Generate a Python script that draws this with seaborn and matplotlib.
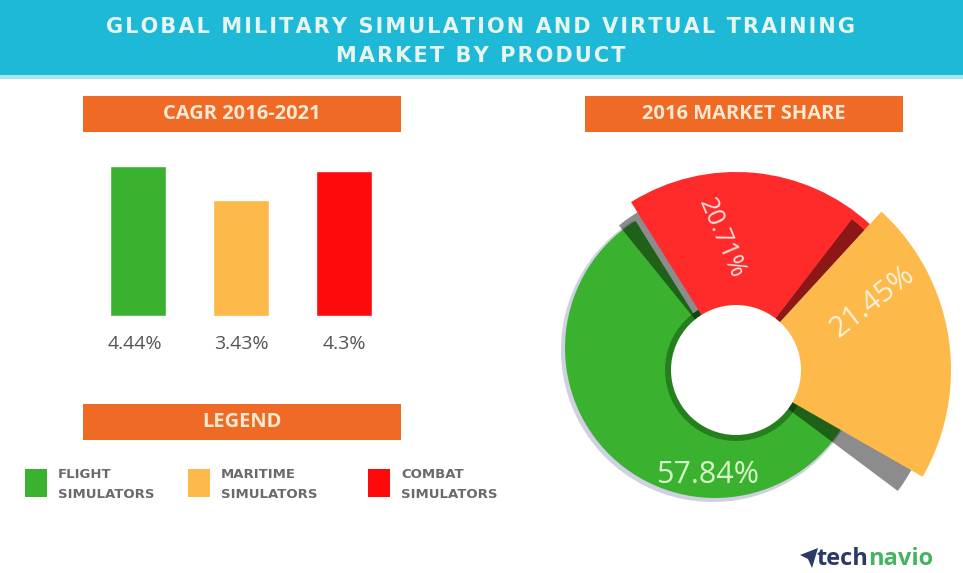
import numpy as np
import matplotlib
matplotlib.use("Agg")
import matplotlib.pyplot as plt
from matplotlib.patches import Rectangle, Circle, Polygon
import seaborn as sns

# ---- data ----
products = ["FLIGHT\nSIMULATORS", "MARITIME\nSIMULATORS", "COMBAT\nSIMULATORS"]
cagr_2016_2021 = [4.44, 3.43, 4.3]
share_2016 = [57.84, 21.45, 20.71]
bar_colors = ["#3AB22F", "#FDB94A", "#FF0A0A"]
donut_colors = ["#3AB22F", "#FDB94A", "#FF2B2B"]

title = "GLOBAL MILITARY SIMULATION AND VIRTUAL TRAINING\nMARKET BY PRODUCT"

sns.set_theme(style="white")
plt.rcParams["font.family"] = ["Open Sans", "DejaVu Sans"]

W, H = 963, 573
fig = plt.figure(figsize=(W / 100, H / 100), dpi=100)
fig.patch.set_facecolor("white")

# background canvas in pixel coordinates (banner, header boxes, legend, logo)
bg = fig.add_axes([0, 0, 1, 1], zorder=0)
bg.set_xlim(0, W)
bg.set_ylim(H, 0)
bg.axis("off")

bg.add_patch(Rectangle((0, 0), W, 75, color="#1DB9D7", lw=0))
bg.add_patch(Rectangle((0, 75), W, 4, color="#A9E5EF", lw=0))
for i, line in enumerate(title.split("\n")):
    spaced = "\u200a".join(line)  # letter-spaced like the original banner
    bg.text(481, 27 + i * 29, spaced, ha="center", va="center", color="#E6F5F0",
            fontsize=15, fontweight="bold", family="DejaVu Sans")

orange = "#EE6A25"
header_color = "#FCE8D3"
for x0, y0, label in [(83, 96, "CAGR 2016-2021"), (585, 96, "2016 MARKET SHARE"),
                      (83, 404, "LEGEND")]:
    bg.add_patch(Rectangle((x0, y0), 318, 36, color=orange, lw=0))
    bg.text(x0 + 159, y0 + 18, label, ha="center", va="center", color=header_color,
            fontsize=14.5, fontweight="bold")

# legend entries
for x0, name, col in zip([25, 188, 368], products, bar_colors):
    bg.add_patch(Rectangle((x0, 469), 22, 28, color=col, lw=0))
    first, second = name.split("\n")
    bg.text(x0 + 33, 475, first, ha="left", va="center", color="#6A6A6A",
            fontsize=9.5, fontweight="bold", family="DejaVu Sans")
    bg.text(x0 + 33, 495, second, ha="left", va="center", color="#6A6A6A",
            fontsize=9.5, fontweight="bold", family="DejaVu Sans")

# technavio logo
bg.add_patch(Polygon([(800, 555), (818, 548), (812, 568), (808, 559)],
                     closed=True, color="#2B3A67", lw=0))
bg.text(868, 559, "tech", ha="right", va="center", color="#2B3A67",
        fontsize=17, fontweight="bold")
bg.text(868, 559, "navio", ha="left", va="center", color="#45B462",
        fontsize=17, fontweight="bold")

# ---- CAGR bars ----
ax = fig.add_axes([86.5 / W, (H - 316) / H, 309 / W, 169 / H], zorder=1)
ax.set_facecolor("none")
sns.barplot(x=products, y=cagr_2016_2021, hue=products, palette=bar_colors,
            width=0.534, legend=False, saturation=1, ax=ax)
ax.set_xlim(-0.5, 2.5)
ax.set_ylim(0, 5)
for i, v in enumerate(cagr_2016_2021):
    ax.annotate(f"{v}%", xy=(i, 0), xytext=(-2 if i == 0 else 0, -20),
                textcoords="offset points", ha="center", va="center",
                color="#555555", fontsize=14)
ax.set_xticks([])
ax.set_yticks([])
ax.set_xlabel("")
ax.set_ylabel("")
sns.despine(ax=ax, left=True, bottom=True)

# ---- 2016 market share donut (units = pixels) ----
R = 240
axd = fig.add_axes([(736 - R) / W, (H - 370 - R) / H, 2 * R / W, 2 * R / H], zorder=1)
axd.set_facecolor("none")
START = 122
r_in = 65


def ring(slot, color, radius, center=(0, 0), start=START, alpha=1.0, z=1):
    cols = ["none"] * len(share_2016)
    cols[slot] = color
    wedges, _ = axd.pie(share_2016, colors=cols, radius=radius, startangle=start,
                        center=center, counterclock=True,
                        wedgeprops=dict(linewidth=0, alpha=alpha))
    for w in wedges:
        w.set_zorder(z)


ring(0, "#CFD1E3", 152, center=(-23, 20), z=1)          # soft halo
ring(0, donut_colors[0], 150, center=(-21, 22), z=2)    # flight
ring(0, "#24801D", r_in + 6, z=3)                       # inner shade
ring(2, "black", 186, start=START + 7, alpha=0.45, z=4)  # combat shadow
ring(2, donut_colors[2], 198, z=5)                       # combat
ring(1, "black", 202, start=START - 7, alpha=0.45, z=6)  # maritime shadow
ring(1, "black", 190, start=START + 5, alpha=0.45, z=6)
ring(1, donut_colors[1], 215, z=7)                       # maritime
axd.add_patch(Circle((0, 0), r_in, color="white", lw=0, zorder=10))

axd.set_xlim(-R, R)
axd.set_ylim(-R, R)
axd.axis("off")

labels = [f"{v}%" for v in share_2016]
axd.text(-28, -105, labels[0], ha="center", va="center", color="#D6F6C8",
         fontsize=22, zorder=11)
axd.text(137, 68, labels[1], ha="center", va="center", color="#FFF2D8",
         fontsize=21, rotation=38, zorder=11)
axd.text(-15, 132, labels[2], ha="center", va="center", color="#FFE0E0",
         fontsize=18, rotation=-67, zorder=11)

fig.savefig("out.png", dpi=100, facecolor="white")
